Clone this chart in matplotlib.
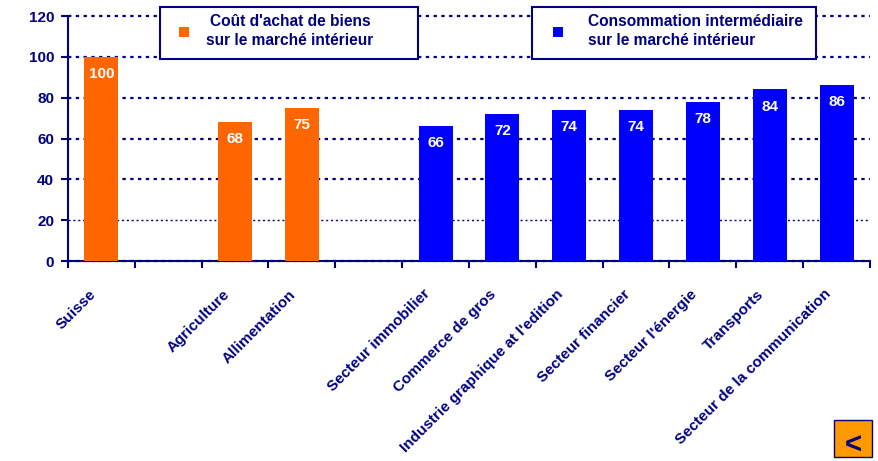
import numpy as np
import matplotlib
matplotlib.use("Agg")
import matplotlib.pyplot as plt
from matplotlib.patches import Rectangle
from matplotlib import transforms

# slots left empty in the original chart are kept as gaps
categories = ["Suisse", "", "Agriculture", "Allimentation", "",
              "Secteur immobilier", "Commerce de gros",
              "Industrie graphique at l'edition", "Secteur financier",
              "Secteur l'énergie", "Transports", "Secteur de la communication"]
values = [100, None, 68, 75, None, 66, 72, 74, 74, 78, 84, 86]
groups = ["achat", None, "achat", "achat", None,
          "conso", "conso", "conso", "conso", "conso", "conso", "conso"]
legend_achat = "Coût d'achat de biens\nsur le marché intérieur"
legend_conso = "Consommation intermédiaire\nsur le marché intérieur"
yticks = [0, 20, 40, 60, 80, 100, 120]

NAVY = "#000080"
ORANGE = "#FF6600"
BLUE = "#0000FF"
colors = {"achat": ORANGE, "conso": BLUE}

plt.rcParams['font.family'] = ['Liberation Sans', 'DejaVu Sans']
plt.rcParams['font.weight'] = 'bold'

fig = plt.figure(figsize=(8.79, 4.61), dpi=100)
ax = fig.add_axes([68/879, 1-261/461, 802/879, 245/461])

x = np.arange(len(categories))
for i, (v, g) in enumerate(zip(values, groups)):
    if v is None:
        continue
    ax.bar(i, v, width=0.51, color=colors[g], zorder=3)
    off = transforms.offset_copy(ax.transData, fig=fig, x=0, y=-17, units='dots')
    ax.text(i, v, "%d" % v, transform=off, ha='center', va='center',
            color='white', fontsize=11, fontweight='bold', zorder=4)

ax.set_xlim(-0.5, len(categories) - 0.5)
ax.set_ylim(0, 120)
ax.set_yticks(yticks)
ax.set_xticks(np.arange(len(categories) + 1) - 0.5)
ax.set_xticklabels([])

# category labels, rotated, ending a little left of the bar centre
lab_tr = transforms.offset_copy(ax.get_xaxis_transform(), fig=fig,
                                x=-13, y=-26, units='dots')
for i, name in enumerate(categories):
    if name:
        ax.text(i, 0, name, transform=lab_tr, rotation=45, ha='right',
                va='top', rotation_mode='anchor', color=NAVY,
                fontsize=11, fontweight='bold', clip_on=False)

ax.tick_params(axis='x', which='major', direction='out', length=5,
               width=1.5, color=NAVY)
ax.tick_params(axis='y', direction='out', length=5, width=1.5,
               color=NAVY, labelsize=11, labelcolor=NAVY, pad=5)
for lab in ax.get_yticklabels():
    lab.set_fontweight('bold')

for side in ['top', 'right']:
    ax.spines[side].set_visible(False)
for side in ['left', 'bottom']:
    ax.spines[side].set_color(NAVY)
    ax.spines[side].set_linewidth(1.5)

ax.yaxis.grid(True, color=NAVY, linestyle=(0, (1.5, 2)), linewidth=1.6, zorder=0)
ax.set_axisbelow(True)
for gl in ax.get_ygridlines():
    gl.set_clip_on(False)
ax.get_ygridlines()[1].set_linewidth(1.0)

# two separate legend boxes as in the original
def legend_box(x0, x1, color, text, mx, tx, ha):
    fig.patches.append(Rectangle((x0/879, 1-59/461), (x1-x0)/879, 52/461,
                                 transform=fig.transFigure, facecolor='white',
                                 edgecolor=NAVY, linewidth=1.5, zorder=5))
    fig.patches.append(Rectangle((mx/879, 1-37/461), 10/879, 10/461,
                                 transform=fig.transFigure, facecolor=color,
                                 edgecolor='none', zorder=6))
    fig.text(tx/879, 1-31/461, text, ha=ha, va='center', color=NAVY,
             fontsize=11.2, fontweight='bold', linespacing=1.4, zorder=6,
             multialignment=ha)

legend_box(160, 418, ORANGE, legend_achat, 179, 290, 'center')
legend_box(532, 816, BLUE, legend_conso, 553, 588, 'left')

# navigation button in the corner
fig.patches.append(Rectangle((834/879, 4/461), 38/879, 37/461,
                             transform=fig.transFigure, facecolor='#FF9900',
                             edgecolor=NAVY, linewidth=1, zorder=5))
fig.text(853/879, 7/461, "<", ha='center', va='baseline', color=NAVY,
         fontsize=21, fontweight='bold', zorder=6)

fig.savefig("out.png", dpi=100, facecolor='white')
